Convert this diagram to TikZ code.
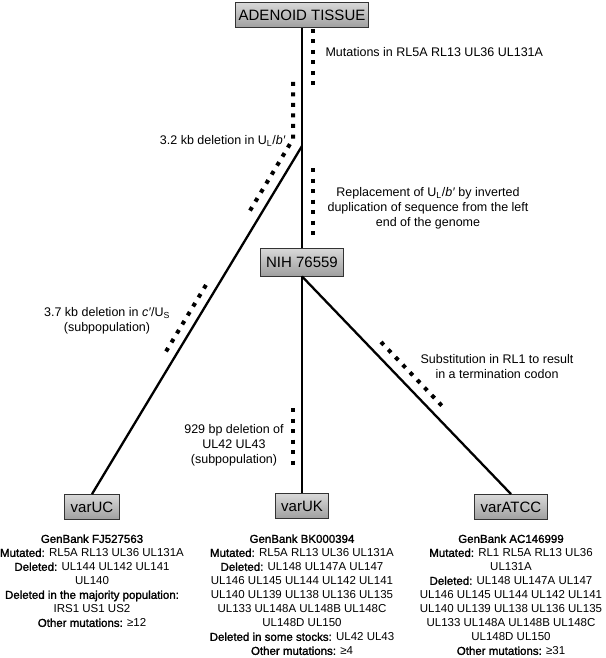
\documentclass[tikz,border=0pt]{standalone}
\usepackage{fontspec}
\setmainfont{Liberation Sans}
\newfontface\negrita[FakeBold=1.6]{Liberation Sans}
\newcommand{\nb}[1]{{\negrita #1}}
\usetikzlibrary{positioning}
\begin{document}
\begin{tikzpicture}[x=1pt,y=-1pt,
    caja/.style={draw=black!80,line width=0.8pt,top color=gclaro,middle color=white,bottom color=goscuro,
      font=\fontsize{15}{18}\selectfont,inner xsep=6pt,minimum height=25pt},
    rama/.style={line width=2.3pt},
    marca/.style={line width=4pt,dash pattern=on 4pt off 6.5pt},
    nota/.style={font=\fontsize{12.5}{15}\selectfont,align=center},
    datos/.style={font=\fontsize{11.5}{14}\selectfont,align=center,anchor=north}]
        %colores
        \colorlet{gclaro}{gray!30}
        \colorlet{goscuro}{gray!75}
        \useasboundingbox (0,0) rectangle (605,658);

        % Cajas
        \node[caja,inner xsep=3pt] (adenoid) at (302,15) {ADENOID TISSUE};
        \node[caja,minimum height=28pt] (nih) at (302,262) {NIH 76559};
        \node[caja] (varuc) at (92,507) {varUC};
        \node[caja] (varuk) at (302,506) {varUK};
        \node[caja] (varatcc) at (511,507) {varATCC};
        \coordinate (bif) at (302,146);

        % Ramas
        \draw[rama] (adenoid) -- (nih);
        \draw[rama] (bif) -- (varuc.north);
        \draw[rama] (nih) -- (varuk);
        \draw[rama] (nih.south) -- (varatcc.north);

        % Marcas de puntos
        \draw[marca] (313,29) -- (313,85.5);
        \draw[marca] (293,82) -- (293,139) -- (250,210.6);
        \draw[marca] (313,168) -- (313,235);
        \draw[marca] (206,285) -- (166,351.5);
        \draw[marca] (293,408) -- (293,464.5);
        \draw[marca] (381,342) -- (441.7,405.6);

        % Notas
        \node[nota,anchor=west] (mut) at (322,52) {Mutations in RL5A RL13 UL36 UL131A};
        \node[nota,anchor=east] (del32) at (289,141) {3.2 kb deletion in U\textsubscript{L}/\textit{b′}};
        \node[nota] (reempl) at (428,208) {Replacement of U\textsubscript{L}/\textit{b′} by inverted\\duplication of sequence from the left\\end of the genome};
        \node[nota] (del37) at (107,321) {3.7 kb deletion in \textit{c′}/U\textsubscript{S}\\(subpopulation)};
        \node[nota] (del929) at (234,445) {929 bp deletion of\\UL42 UL43\\(subpopulation)};
        \node[nota] (subst) at (497,367) {Substitution in RL1 to result\\in a termination codon};

        % Datos de cada cepa
        \node[datos] (txtuc) at (92,531) {\nb{GenBank FJ527563}\\\nb{Mutated:} RL5A RL13 UL36 UL131A\\
            \nb{Deleted:} UL144 UL142 UL141\\UL140\\\nb{Deleted in the majority population:}\\
            IRS1 US1 US2\\\nb{Other mutations:} ≥12};
        \node[datos] (txtuk) at (302,531) {\nb{GenBank BK000394}\\\nb{Mutated:} RL5A RL13 UL36 UL131A\\
            \nb{Deleted:} UL148 UL147A UL147\\UL146 UL145 UL144 UL142 UL141\\UL140 UL139 UL138 UL136 UL135\\
            UL133 UL148A UL148B UL148C\\UL148D UL150\\\nb{Deleted in some stocks:} UL42 UL43\\
            \nb{Other mutations:} ≥4};
        \node[datos] (txtatcc) at (511,531) {\nb{GenBank AC146999}\\\nb{Mutated:} RL1 RL5A RL13 UL36\\
            UL131A\\\nb{Deleted:} UL148 UL147A UL147\\UL146 UL145 UL144 UL142 UL141\\
            UL140 UL139 UL138 UL136 UL135\\UL133 UL148A UL148B UL148C\\UL148D UL150\\
            \nb{Other mutations:} ≥31};
    \end{tikzpicture}
\end{document}
